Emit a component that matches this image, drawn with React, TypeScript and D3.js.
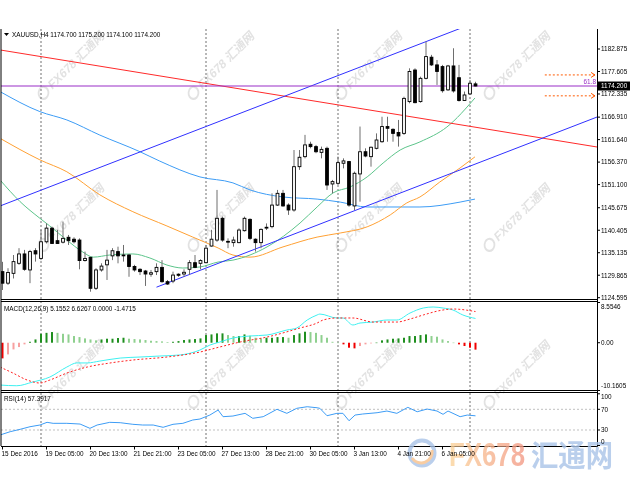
import React from 'react';
import * as d3 from 'd3';

// ---------- DATA ----------
const opens = [1130.7,1128.0,1130.3,1132.65,1134.85,1131.1,1135.6,1133.8,1137.7,1140.9,1137.95,1137.6,1138.75,1138.3,1138.1,1133.3,1134.05,1126.8,1131.1,1132.3,1134.4,1135.4,1134.6,1134.6,1131.9,1131.25,1130.85,1130.1,1130.7,1131.7,1128.35,1128.5,1130.1,1130.15,1131.25,1132.8,1132.65,1132.8,1136.7,1138.1,1143.2,1137.8,1137.5,1137.5,1140.3,1142.95,1138.3,1137.5,1140.9,1141.25,1146.3,1149.05,1146.3,1145.15,1155.3,1157.65,1160.55,1160.0,1158.65,1159.6,1151.25,1151.4,1156.1,1156.5,1146.1,1153.6,1158.8,1157.65,1159.6,1161.15,1164.7,1164.05,1163.3,1163.1,1170.55,1177.95,1170.55,1176.0,1180.95,1179.15,1178.75,1173.3,1178.9,1176.15,1170.8,1172.35,1174.7];
const highs = [1133.0,1131.5,1134.6,1136.2,1135.8,1135.8,1136.2,1140.5,1142.0,1141.25,1140.5,1142.4,1139.3,1138.75,1138.5,1135.4,1134.2,1131.5,1132.65,1135.8,1136.2,1136.55,1136.95,1134.85,1132.3,1131.5,1131.1,1131.1,1132.65,1133.4,1128.75,1130.7,1130.3,1131.25,1133.4,1134.6,1133.6,1136.95,1140.5,1149.85,1143.6,1138.5,1138.9,1140.85,1143.6,1143.2,1138.5,1140.85,1142.0,1149.05,1149.85,1149.85,1146.7,1159.2,1159.2,1162.75,1161.15,1160.4,1160.0,1160.0,1152.2,1157.65,1157.25,1156.65,1154.15,1164.7,1159.6,1160.0,1163.1,1167.0,1167.0,1164.3,1166.25,1171.7,1178.35,1178.35,1176.4,1184.6,1181.5,1180.3,1179.15,1179.15,1183.05,1179.15,1172.9,1175.6,1175.2];
const lows = [1126.4,1127.6,1129.1,1132.3,1130.9,1128.0,1133.05,1133.4,1137.3,1137.2,1137.2,1137.3,1136.95,1137.3,1131.25,1133.05,1126.0,1126.4,1130.7,1128.75,1133.4,1132.65,1133.05,1129.5,1130.7,1129.9,1127.35,1129.5,1129.9,1128.1,1127.6,1128.0,1129.5,1129.5,1129.9,1131.5,1131.25,1132.65,1136.55,1137.7,1137.7,1136.2,1136.55,1137.35,1140.1,1138.1,1135.4,1136.2,1140.45,1140.85,1146.1,1145.9,1144.0,1144.75,1154.55,1157.25,1159.6,1158.45,1157.25,1149.85,1149.05,1151.0,1154.9,1145.9,1145.15,1147.1,1157.5,1155.3,1159.35,1160.9,1161.15,1161.15,1160.0,1162.75,1170.15,1170.15,1170.3,1175.75,1178.9,1174.45,1172.65,1173.05,1172.65,1170.55,1170.8,1172.1,1174.1];
const closes = [1128.0,1130.5,1133.05,1134.85,1131.25,1135.4,1134.85,1137.7,1140.9,1137.3,1137.3,1138.5,1137.95,1137.7,1133.3,1133.8,1126.8,1131.1,1132.0,1133.4,1135.6,1134.4,1134.4,1131.9,1131.1,1130.7,1130.15,1130.45,1131.7,1128.35,1127.8,1129.9,1129.85,1130.55,1132.8,1131.7,1133.3,1136.2,1138.3,1143.2,1138.1,1137.65,1138.1,1140.45,1143.2,1138.5,1137.5,1140.6,1141.1,1146.3,1149.05,1146.1,1145.15,1155.3,1157.5,1160.4,1160.0,1158.8,1159.35,1151.0,1151.8,1156.25,1156.65,1146.3,1153.75,1158.8,1157.8,1159.85,1161.55,1164.7,1164.3,1163.1,1162.5,1171.3,1177.6,1170.3,1176.0,1181.1,1179.15,1177.6,1173.1,1178.9,1173.05,1170.8,1172.1,1174.85,1174.2];

// moving averages, [bar index, price]
const maGreen = [[-0.45,1152.2],[3.2,1147.1],[6.8,1143.2],[8.6,1141.4],[11.7,1138.1],[14.6,1135.3],[16.5,1134.1],[19.5,1134.6],[23.7,1134.85],[26.8,1133.9],[29.9,1132.25],[32.8,1131.55],[35.9,1131.8],[39.2,1132.95],[41.9,1133.4],[48.1,1136.5],[54.1,1142.1],[57.2,1145.85],[60.1,1149.15],[63.2,1150.55],[66.3,1152.9],[69.2,1156.15],[72.3,1159.2],[75.9,1161.1],[80.8,1164.6],[85.9,1171.4]];
const maOrange = [[-0.45,1161.95],[6.8,1156.9],[11.7,1154.1],[17.7,1148.7],[23.7,1144.75],[29.9,1141.4],[34.6,1138.8],[39.2,1136.25],[41.9,1134.6],[45,1134.1],[51,1136.5],[57.2,1138.8],[61.4,1139.75],[66.3,1141.2],[70.5,1144.0],[73.5,1146.8],[75.9,1148.2],[79.5,1151.7],[83.2,1155.0],[85.9,1157.6]];
const maBlue = [[-0.45,1172.9],[6.8,1168.2],[11.7,1166.25],[17.7,1162.7],[25,1158.8],[28.6,1156.6],[35.9,1152.9],[41.9,1151.5],[45,1149.85],[51,1148.2],[57.2,1147.7],[61.4,1147.0],[66.3,1145.85],[72.3,1145.85],[75.9,1145.85],[83.2,1147.0],[85.9,1147.7]];

// drawn objects
const redLine = [[0,1182.56],[85,1164.75]];
const channelUpper = [[0,1146.31],[80,1186.1]];
const channelLower = [[28,1127.06],[100,1162.9]];
const fibLevel = 1174.2;
const fibLabel = '61.8';
const arrowLevels = [1176.8, 1171.9];
const arrowStart = 98.6;
const lastPrice = 1174.2;

// MACD
const macdHist = [-3.33,-2.48,-1.42,-0.92,-0.35,0.2,0.7,1.9,2.1,2.27,2.1,1.9,1.77,1.42,1.2,0.92,0.7,0.5,0.7,0.85,0.85,1.0,1.06,0.85,0.78,0.7,0.57,0.42,0.35,0.28,0.14,0.2,0.35,0.57,0.7,0.78,0.92,1.63,1.77,1.99,1.99,1.63,1.42,1.42,1.77,1.49,1.06,0.92,1.06,1.06,1.2,1.2,1.06,1.63,1.99,2.34,2.27,2.1,1.63,1.06,0.2,0.02,-0.35,-1.06,-1.2,-0.7,-0.35,-0.14,0.02,0.5,0.7,0.85,0.92,1.06,1.42,1.42,1.63,1.77,1.42,1.28,0.7,0.35,0.02,-0.35,-0.7,-1.06,-1.47];
const macdMain = [[-0.45,-9.0],[2.6,-9.15],[5.5,-8.36],[8.6,-7.3],[11.7,-5.17],[13.5,-4.3],[15.4,-4.3],[17.7,-3.9],[21.4,-3.26],[25,-3.04],[28.6,-2.83],[32.3,-2.6],[35.9,-1.55],[37.7,-0.5],[39.5,0.15],[41.9,1.0],[45,1.43],[48.1,1.64],[51.7,2.7],[53.5,3.13],[55.4,4.83],[57.2,5.9],[57.7,6.1],[60.8,5.26],[61.9,5.26],[63.7,3.77],[65,4.19],[67.4,4.4],[69.9,4.83],[71.7,4.83],[74.1,6.32],[76.5,7.38],[78.3,7.6],[80.1,7.38],[81.9,6.96],[83.7,5.9],[86,5.16]];
const macdSignal = [[-0.45,-5.17],[1.9,-6.45],[4.5,-7.94],[6.8,-8.57],[8.6,-7.94],[11.7,-6.45],[15.4,-5.17],[19.5,-4.32],[23.7,-3.68],[29.9,-3.04],[35.9,-1.98],[39.5,-0.91],[43.2,0.15],[48.1,1.21],[54.1,3.13],[57.2,4.19],[58.3,4.83],[60.8,5.26],[63.7,5.26],[67.4,4.4],[71.7,4.4],[74.1,5.04],[76.5,5.9],[80.1,6.96],[81.9,7.17],[86,6.63]];

// RSI
const rsi = [[-0.45,20.3],[1.4,26.7],[3.2,31.3],[5,36.3],[6.8,39.6],[8.1,44.8],[9.2,42.9],[11.7,42.9],[14.1,41.5],[15.9,33.2],[17.2,39.6],[19.5,44.8],[21.4,44.1],[23.7,41.0],[25.5,39.6],[27.4,39.6],[29.2,35.2],[31,41.0],[32.8,42.9],[34.6,49.3],[35.9,51.2],[37.7,58.9],[39.2,68.6],[40.1,55.7],[41.9,57.0],[44.1,62.2],[45.5,52.6],[47.4,55.7],[49.9,70.0],[51.7,62.2],[53.5,71.9],[55.4,75.0],[57.2,73.0],[57.7,71.9],[59,57.6],[60.8,62.2],[61.9,62.2],[63,47.9],[64.1,58.9],[65.5,60.9],[68.1,63.4],[69.9,66.7],[71.7,62.2],[73.7,73.8],[75.4,65.3],[77.2,70.5],[79,66.7],[80.1,60.3],[81,66.7],[83.2,55.7],[84.5,58.9],[86,57.4]];

// axes
const priceTicks = [1182.875,1177.605,1172.335,1166.910,1161.640,1156.370,1151.100,1145.675,1140.405,1135.135,1129.865,1124.595];
const macdTicks = [8.5546, 0, -10.1605];
const macdTickLabels = ['8.5546','0.00','-10.1605'];
const rsiTicks = [100, 70, 30, 0];
const timeIdx = [0,8,16,24,32,40,48,56,64,72,80];
const timeLabels = ['15 Dec 2016','19 Dec 05:00','20 Dec 13:00','21 Dec 21:00','23 Dec 05:00','27 Dec 13:00','28 Dec 21:00','30 Dec 05:00','3 Jan 13:00','4 Jan 21:00','6 Jan 05:00'];
const weekSeparators = [7, 37, 61, 85];

const headerMain = 'XAUUSD,H4  1174.700 1175.200 1174.100 1174.200';
const headerMacd = 'MACD(12,26,9) 5.1552 6.6267 0.0000 -1.4715';
const headerRsi = 'RSI(14) 57.3917';

const wmX = [74, 224, 372, 520];
const wmY = [68, 220, 377];

const FONT = '"Liberation Sans", Arial, sans-serif';

export default function App() {
  const W = 630, H = 490;
  const L = 1, R = 597;
  const mainTop = 29, mainBot = 299;
  const macdTop = 301, macdBot = 391;
  const rsiTop = 392, rsiBot = 446;

  const x = d3.scaleLinear().domain([0, 86]).range([2.5, 475.5]);
  const y = d3.scaleLinear().domain([1124.595, 1182.875]).range([297.7, 49]);
  const ym = d3.scaleLinear().domain([-10.1605, 8.5546]).range([390.5, 302.5]);
  const yr = d3.scaleLinear().domain([0, 100]).range([445.5, 393.8]);

  const lineP = d3.line<number[]>().x(d => x(d[0])).y(d => y(d[1])).curve(d3.curveMonotoneX);
  const lineM = d3.line<number[]>().x(d => x(d[0])).y(d => ym(d[1])).curve(d3.curveMonotoneX);
  const lineR = d3.line<number[]>().x(d => x(d[0])).y(d => yr(d[1])).curve(d3.curveLinear);

  const iL = x.invert(L), iR = x.invert(R);
  const ray = (a: number[][], fromStart: boolean) => {
    const [p1, p2] = a;
    const slope = (p2[1] - p1[1]) / (p2[0] - p1[0]);
    const i0 = fromStart ? p1[0] : iL;
    const pa = p1[1] + slope * (i0 - p1[0]);
    const pb = p1[1] + slope * (iR - p1[0]);
    return { x1: x(i0), y1: y(pa), x2: x(iR), y2: y(pb) };
  };
  const red = ray(redLine, false);
  const up = ray(channelUpper, false);
  const lo = ray(channelLower, true);

  const histColor = (i: number) => {
    const v = macdHist[i];
    const prev = i > 0 ? macdHist[i - 1] : v;
    if (v >= 0) return v >= prev ? '#1f8f1f' : '#8fd08f';
    return v <= prev ? '#f00000' : '#f7a0a0';
  };

  const txt = { fontFamily: FONT, fontSize: 6.4, fill: '#000' } as React.CSSProperties;

  return (
    <svg width={W} height={H} style={{ position: 'absolute', left: 0, top: 0, background: '#fff' }}>
      <defs>
        <clipPath id="cMain"><rect x={L} y={mainTop} width={R - L} height={mainBot - mainTop} /></clipPath>
        <clipPath id="cMacd"><rect x={L} y={macdTop} width={R - L} height={macdBot - macdTop} /></clipPath>
        <clipPath id="cRsi"><rect x={L} y={rsiTop} width={R - L} height={rsiBot - rsiTop} /></clipPath>
        <linearGradient id="gOr" x1="0" x2="1" y1="0" y2="0">
          <stop offset="0" stopColor="#fbd59c" />
          <stop offset="1" stopColor="#f39a86" />
        </linearGradient>
      </defs>
      <rect x={0} y={0} width={W} height={H} fill="#fff" />

      {/* watermarks */}
      <g opacity={0.7}>
        {wmY.map((cy, r) => wmX.map((cx, c) => (
          <g key={`wm${r}-${c}`} transform={`translate(${cx},${cy}) rotate(-45) skewX(-12)`}>
            <circle cx={-40} cy={-4} r={5.5} fill="none" stroke="#d6d6d6" strokeWidth={2} />
            <text x={-31} y={0} style={{ fontFamily: '"Liberation Sans", "Noto Sans CJK SC", sans-serif', fontSize: 12, fontWeight: 700, fill: '#d6d6d6' }}>FX678 汇通网</text>
          </g>
        )))}
      </g>

      {/* weekly separators */}
      {weekSeparators.map(i => (
        <line key={`sep${i}`} x1={x(i)} x2={x(i)} y1={mainTop} y2={rsiBot} stroke="#707070" strokeWidth={1} strokeDasharray="2,2" />
      ))}

      {/* main panel */}
      <g clipPath="url(#cMain)">
        <path d={lineP(maBlue) || ''} fill="none" stroke="#3d9cf5" strokeWidth={1} />
        <path d={lineP(maOrange) || ''} fill="none" stroke="#ffa033" strokeWidth={1} />
        <path d={lineP(maGreen) || ''} fill="none" stroke="#5cc48a" strokeWidth={1} />
        <line x1={red.x1} y1={red.y1} x2={red.x2} y2={red.y2} stroke="#ff2a2a" strokeWidth={1} />
        <line x1={up.x1} y1={up.y1} x2={up.x2} y2={up.y2} stroke="#3030ff" strokeWidth={1} />
        <line x1={lo.x1} y1={lo.y1} x2={lo.x2} y2={lo.y2} stroke="#3030ff" strokeWidth={1} />
        <line x1={L} x2={R} y1={y(fibLevel)} y2={y(fibLevel)} stroke="#9a2fc7" strokeWidth={1.2} />
        {arrowLevels.map(p => (
          <g key={`ar${p}`}>
            <line x1={x(arrowStart)} x2={R - 2} y1={y(p)} y2={y(p)} stroke="#ff5a00" strokeWidth={1} strokeDasharray="2,2" />
            <path d={`M${R - 6},${y(p) - 2.5} L${R - 2},${y(p)} L${R - 6},${y(p) + 2.5}`} fill="none" stroke="#ff5a00" strokeWidth={1} />
          </g>
        ))}
        {opens.map((o, i) => {
          const c = closes[i];
          const cx = x(i);
          const top = y(Math.max(o, c));
          const bot = y(Math.min(o, c));
          const bull = c >= o;
          return (
            <g key={`c${i}`}>
              <line x1={cx} x2={cx} y1={y(highs[i])} y2={y(lows[i])} stroke="#6e6e6e" strokeWidth={1} />
              <rect x={cx - 1.4} y={top} width={2.8} height={Math.max(bot - top, 0.8)} fill={bull ? '#fff' : '#000'} stroke="#000" strokeWidth={0.9} />
            </g>
          );
        })}
      </g>
      <text x={R - 1} y={y(fibLevel) - 2.5} textAnchor="end" style={{ ...txt, fill: '#9a2fc7' }}>{fibLabel}</text>
      <path d="M4,33 L9,33 L6.5,36 Z" fill="#000" />
      <text x={12} y={37} style={txt}>{headerMain}</text>

      {/* MACD panel */}
      <g clipPath="url(#cMacd)">
        {macdHist.map((v, i) => (
          <rect key={`h${i}`} x={x(i) - 1} y={Math.min(ym(v), ym(0))} width={2} height={Math.max(Math.abs(ym(v) - ym(0)), 0.5)} fill={histColor(i)} />
        ))}
        <path d={lineM(macdMain) || ''} fill="none" stroke="#3ef0f0" strokeWidth={1} />
        <path d={lineM(macdSignal) || ''} fill="none" stroke="#ff2020" strokeWidth={1} strokeDasharray="2,2" />
      </g>
      <text x={4} y={310.5} style={txt}>{headerMacd}</text>

      {/* RSI panel */}
      <g clipPath="url(#cRsi)">
        {[70, 30].map(v => (
          <line key={`rl${v}`} x1={L} x2={R} y1={yr(v)} y2={yr(v)} stroke="#c0c0c0" strokeWidth={1} strokeDasharray="2,2" />
        ))}
        <path d={lineR(rsi) || ''} fill="none" stroke="#3d9cf5" strokeWidth={1} />
      </g>
      <text x={4} y={401} style={txt}>{headerRsi}</text>

      {/* frames */}
      <line x1={L} x2={L} y1={mainTop} y2={rsiBot} stroke="#000" />
      <line x1={R + 0.5} x2={R + 0.5} y1={mainTop} y2={rsiBot + 0.5} stroke="#000" />
      <line x1={L} x2={R} y1={mainBot + 0.5} y2={mainBot + 0.5} stroke="#000" />
      <line x1={L} x2={R} y1={macdTop + 0.5} y2={macdTop + 0.5} stroke="#000" />
      <line x1={L} x2={R} y1={macdBot - 0.5} y2={macdBot - 0.5} stroke="#000" />
      <line x1={L} x2={R} y1={rsiTop + 0.5} y2={rsiTop + 0.5} stroke="#000" />
      <line x1={L} x2={R + 0.5} y1={rsiBot + 0.5} y2={rsiBot + 0.5} stroke="#000" />

      {/* logo (behind axis labels) */}
      <g opacity={0.8}>
        <circle cx={422} cy={453} r={12.5} fill="none" stroke="#a9c3e8" strokeWidth={4} />
        <path d="M412,458 A11,11 0 0 0 432,450" fill="none" stroke="#f7c08a" strokeWidth={3} />
        <text x={449} y={466} textLength={76} lengthAdjust="spacingAndGlyphs" style={{ fontFamily: FONT, fontSize: 34, fontWeight: 700, fill: 'url(#gOr)' }}>FX678</text>
        <text x={531} y={466} textLength={82} lengthAdjust="spacingAndGlyphs" style={{ fontFamily: '"Noto Sans CJK SC", sans-serif', fontSize: 30, fontWeight: 700, fill: '#a9c3e8' }}>汇通网</text>
      </g>

      {/* price axis */}
      {priceTicks.map(p => (
        <g key={`pt${p}`}>
          <line x1={R} x2={R + 3} y1={y(p)} y2={y(p)} stroke="#000" />
          <text x={601} y={y(p) + 2.3} style={txt}>{p.toFixed(3)}</text>
        </g>
      ))}
      <rect x={598} y={y(lastPrice) - 4.5} width={32} height={9} fill="#000" />
      <text x={601} y={y(lastPrice) + 2.3} style={{ ...txt, fill: '#fff' }}>{lastPrice.toFixed(3)}</text>

      {/* macd axis */}
      {macdTicks.map((v, k) => {
        const ty = ym(v);
        const ly = k === 0 ? ty + 4.5 : k === 2 ? ty - 4.5 : ty;
        return (
          <g key={`mt${k}`}>
            <line x1={R} x2={R + 3} y1={ty} y2={ty} stroke="#000" />
            <text x={601} y={ly + 2.3} style={txt}>{macdTickLabels[k]}</text>
          </g>
        );
      })}

      {/* rsi axis */}
      {rsiTicks.map(v => {
        const ty = yr(v);
        const ly = v === 100 ? ty + 3 : v === 0 ? ty - 3.5 : ty;
        return (
          <g key={`rt${v}`}>
            <line x1={R} x2={R + 3} y1={ty} y2={ty} stroke="#000" />
            <text x={601} y={ly + 2.3} style={txt}>{String(v)}</text>
          </g>
        );
      })}

      {/* time axis */}
      {timeIdx.map((i, k) => (
        <g key={`tt${i}`}>
          <line x1={x(i)} x2={x(i)} y1={rsiBot} y2={rsiBot + 3.5} stroke="#000" />
          <text x={x(i) - 1} y={456} style={txt}>{timeLabels[k]}</text>
        </g>
      ))}
    </svg>
  );
}
